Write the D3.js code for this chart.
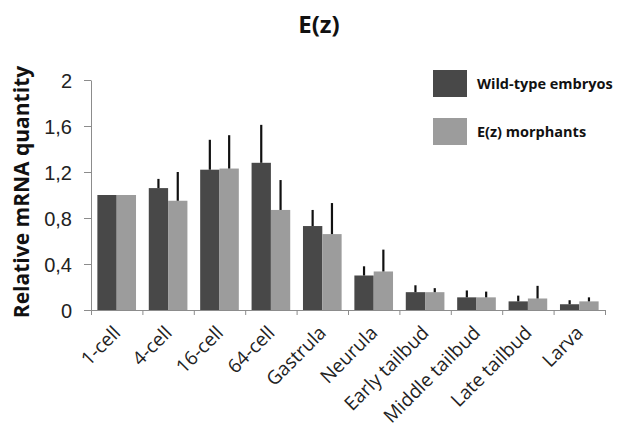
<!DOCTYPE html>
<html>
<head>
<meta charset="utf-8">
<script src="https://cdn.jsdelivr.net/npm/d3@7"></script>
<style>
  body { margin: 0; background: #fff; }
  svg { display: block; font-family: "Open Sans", sans-serif; }
</style>
</head>
<body>
<svg id="chart" width="640" height="432"></svg>
<script>
// stages along the x axis
var stages = ['1-cell', '4-cell', '16-cell', '64-cell', 'Gastrula', 'Neurula',
    'Early tailbud', 'Middle tailbud', 'Late tailbud', 'Larva'];
var seriesNames = ['Wild-type embryos', 'E(z) morphants'];
var wildType = [1.0, 1.06, 1.22, 1.28, 0.73, 0.30, 0.155, 0.11, 0.075, 0.05];
var wildTypeErr = [0, 0.08, 0.26, 0.33, 0.14, 0.08, 0.06, 0.06, 0.05, 0.035];
var morphants = [1.0, 0.95, 1.23, 0.87, 0.66, 0.335, 0.155, 0.11, 0.10, 0.075];
var morphantsErr = [0, 0.25, 0.29, 0.26, 0.27, 0.19, 0.035, 0.05, 0.11, 0.035];
var yTicks = [0, 0.4, 0.8, 1.2, 1.6, 2];

var colors = ['#484848', '#9c9c9c'];
var svg = d3.select('#chart');

var x = d3.scaleBand().domain(stages).range([91, 605]).paddingInner(0).paddingOuter(0);
var xs = d3.scaleBand().domain([0, 1]).range([0, x.bandwidth()]).paddingOuter(0.33);
var y = d3.scaleLinear().domain([0, 2]).range([310, 80]);

// y axis
var yAxis = svg.append('g')
    .attr('transform', 'translate(91,0)')
    .call(d3.axisLeft(y).tickValues(yTicks).tickSize(7).tickSizeOuter(0).tickPadding(12)
        .tickFormat(function(d) { return String(d).replace('.', ','); }));
yAxis.selectAll('path, line').attr('stroke', '#8c8c8c');
yAxis.selectAll('text').attr('font-size', 20).attr('fill', '#222').attr('dy', '0.36em');

// x axis with ticks between categories
var xi = d3.scaleLinear().domain([0, stages.length]).range(x.range());
var xAxis = svg.append('g')
    .attr('transform', 'translate(0,310)')
    .call(d3.axisBottom(xi).tickValues(d3.range(stages.length + 1)).tickSize(5).tickSizeOuter(0)
        .tickFormat(''));
xAxis.selectAll('path, line').attr('stroke', '#8c8c8c');

// bars
var series = [
    {vals: wildType, err: wildTypeErr},
    {vals: morphants, err: morphantsErr}
];
series.forEach(function(s, si) {
    var g = svg.append('g');
    g.selectAll('rect').data(stages).enter().append('rect')
        .attr('x', function(d) { return x(d) + xs(si); })
        .attr('y', function(d, i) { return y(s.vals[i]); })
        .attr('width', xs.bandwidth())
        .attr('height', function(d, i) { return y(0) - y(s.vals[i]); })
        .attr('fill', colors[si]);
    g.selectAll('line').data(stages).enter().append('line')
        .filter(function(d, i) { return s.err[i] > 0; })
        .attr('x1', function(d) { return x(d) + xs(si) + xs.bandwidth() / 2; })
        .attr('x2', function(d) { return x(d) + xs(si) + xs.bandwidth() / 2; })
        .attr('y1', function(d) { return y(s.vals[stages.indexOf(d)]); })
        .attr('y2', function(d) { var i = stages.indexOf(d); return y(s.vals[i] + s.err[i]); })
        .attr('stroke', '#111')
        .attr('stroke-width', 2.2);
});

// x labels, rotated
svg.append('g').selectAll('text').data(stages).enter().append('text')
    .attr('transform', function(d) {
        return 'translate(' + (x(d) + x.bandwidth() / 2 + 5) + ',334) rotate(-45)';
    })
    .attr('text-anchor', 'end')
    .attr('font-size', 19)
    .attr('fill', '#222')
    .text(function(d) { return d; });

// title
svg.append('text')
    .attr('x', 319).attr('y', 33)
    .attr('text-anchor', 'middle')
    .attr('font-size', 24).attr('font-weight', 'bold').attr('fill', '#111')
    .text('E(z)');

// y label
svg.append('text')
    .attr('transform', 'translate(29,192) rotate(-90)')
    .attr('text-anchor', 'middle')
    .attr('font-size', 21).attr('font-weight', 'bold').attr('fill', '#111')
    .text('Relative mRNA quantity');

// legend
var legend = svg.append('g').selectAll('g').data(seriesNames).enter().append('g')
    .attr('transform', function(d, i) { return 'translate(433,' + (70 + i * 48) + ')'; });
legend.append('rect')
    .attr('width', 34).attr('height', 27)
    .attr('fill', function(d, i) { return colors[i]; });
legend.append('text')
    .attr('x', 44).attr('y', 14).attr('dy', '0.35em')
    .attr('font-size', 14.5).attr('font-weight', 'bold').attr('fill', '#111')
    .text(function(d) { return d; });
</script>
</body>
</html>
